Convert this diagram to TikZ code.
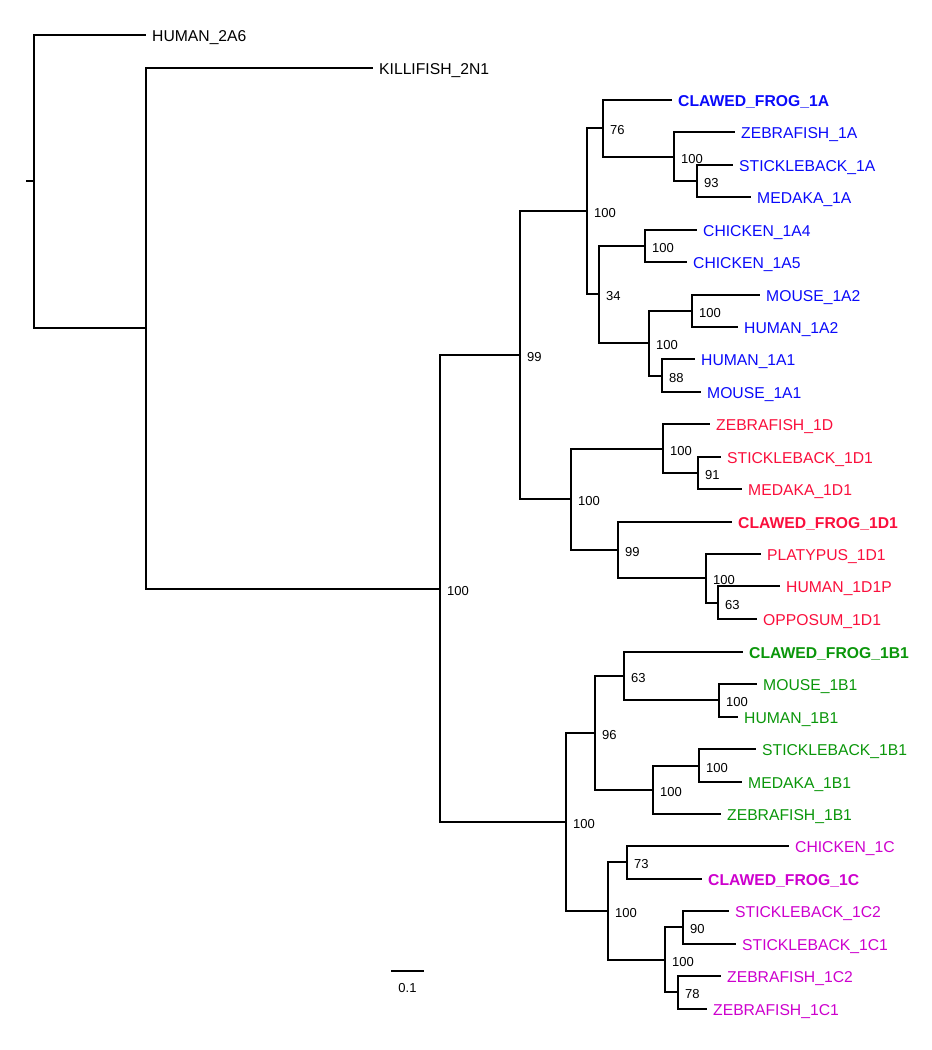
\documentclass[tikz,border=0pt]{standalone}
\usepackage{fontspec}
\setmainfont{Liberation Sans}
\usetikzlibrary{positioning}

\definecolor{cladeA}{RGB}{10,10,250}
\definecolor{cladeD}{RGB}{250,15,60}
\definecolor{cladeB}{RGB}{10,150,10}
\definecolor{cladeC}{RGB}{205,0,205}
\newcommand{\leaffont}{\fontsize{15.7bp}{18bp}\selectfont}
\newcommand{\bootfont}{\fontsize{13bp}{15bp}\selectfont}

\tikzset{
  branch/.style={line width=2bp},
  leaf/.style={text=#1, font=\leaffont, inner sep=0pt, text height=11.2bp, text depth=0pt, yshift=-1.2bp},
  leaf/.default=black,
  frog/.style={font=\leaffont\bfseries},
  boot/.style={font=\bootfont, inner sep=0pt, yshift=-2bp},
}

\begin{document}
\begin{tikzpicture}[x=1bp, y=-1bp]
\useasboundingbox (0,0) rectangle (932,1050);

% internal nodes
\coordinate (rtick) at (26,181);
\coordinate (root) at (34,181);
\coordinate (n1) at (146,328);
\coordinate (n2) at (440,589);
\coordinate (nAD) at (520,355);
\coordinate (nA) at (587,211);
\coordinate (nA76) at (603,128);
\coordinate (nAf) at (674,157);
\coordinate (nA93) at (697,181);
\coordinate (nA34) at (599,294);
\coordinate (nAch) at (645,246);
\coordinate (nAmm) at (649,343);
\coordinate (nA2) at (692,311);
\coordinate (nA88) at (662,376);
\coordinate (nD) at (571,499);
\coordinate (nDf) at (663,449);
\coordinate (nD91) at (698,473);
\coordinate (nD99) at (618,550);
\coordinate (nDmm) at (706,578);
\coordinate (nD63) at (718,603);
\coordinate (nBC) at (566,822);
\coordinate (nB) at (595,733);
\coordinate (nB63) at (624,676);
\coordinate (nBmm) at (719,700);
\coordinate (nBf) at (653,790);
\coordinate (nBsm) at (699,766);
\coordinate (nC) at (608,911);
\coordinate (nC73) at (627,862);
\coordinate (nCf) at (665,960);
\coordinate (nC90) at (683,927);
\coordinate (nC78) at (678,992);

% leaf tips
\coordinate (h2a6) at (146,35);
\coordinate (k2n1) at (373,68);
\coordinate (cf1a) at (672,100);
\coordinate (zf1a) at (735,132);
\coordinate (sb1a) at (733,165);
\coordinate (md1a) at (751,197);
\coordinate (ch1a4) at (697,230);
\coordinate (ch1a5) at (687,262);
\coordinate (ms1a2) at (760,295);
\coordinate (hu1a2) at (738,327);
\coordinate (hu1a1) at (695,359);
\coordinate (ms1a1) at (701,392);
\coordinate (zf1d) at (710,424);
\coordinate (sb1d1) at (721,457);
\coordinate (md1d1) at (742,489);
\coordinate (cf1d1) at (732,522);
\coordinate (pl1d1) at (761,554);
\coordinate (hu1d1p) at (780,586);
\coordinate (op1d1) at (757,619);
\coordinate (cf1b1) at (743,652);
\coordinate (ms1b1) at (757,684);
\coordinate (hu1b1) at (738,717);
\coordinate (sb1b1) at (756,749);
\coordinate (md1b1) at (742,782);
\coordinate (zf1b1) at (721,814);
\coordinate (ch1c) at (789,846);
\coordinate (cf1c) at (702,879);
\coordinate (sb1c2) at (729,911);
\coordinate (sb1c1) at (736,944);
\coordinate (zf1c2) at (721,976);
\coordinate (zf1c1) at (707,1009);

% branches
\draw[branch] (rtick) -- (root);
\draw[branch] (root) |- (h2a6) (root) |- (n1);
\draw[branch] (n1) |- (k2n1) (n1) |- (n2);
\draw[branch] (n2) |- (nAD) (n2) |- (nBC);
\draw[branch] (nAD) |- (nA) (nAD) |- (nD);
\draw[branch] (nA) |- (nA76) (nA) |- (nA34);
\draw[branch] (nA76) |- (cf1a) (nA76) |- (nAf);
\draw[branch] (nAf) |- (zf1a) (nAf) |- (nA93);
\draw[branch] (nA93) |- (sb1a) (nA93) |- (md1a);
\draw[branch] (nA34) |- (nAch) (nA34) |- (nAmm);
\draw[branch] (nAch) |- (ch1a4) (nAch) |- (ch1a5);
\draw[branch] (nAmm) |- (nA2) (nAmm) |- (nA88);
\draw[branch] (nA2) |- (ms1a2) (nA2) |- (hu1a2);
\draw[branch] (nA88) |- (hu1a1) (nA88) |- (ms1a1);
\draw[branch] (nD) |- (nDf) (nD) |- (nD99);
\draw[branch] (nDf) |- (zf1d) (nDf) |- (nD91);
\draw[branch] (nD91) |- (sb1d1) (nD91) |- (md1d1);
\draw[branch] (nD99) |- (cf1d1) (nD99) |- (nDmm);
\draw[branch] (nDmm) |- (pl1d1) (nDmm) |- (nD63);
\draw[branch] (nD63) |- (hu1d1p) (nD63) |- (op1d1);
\draw[branch] (nBC) |- (nB) (nBC) |- (nC);
\draw[branch] (nB) |- (nB63) (nB) |- (nBf);
\draw[branch] (nB63) |- (cf1b1) (nB63) |- (nBmm);
\draw[branch] (nBmm) |- (ms1b1) (nBmm) |- (hu1b1);
\draw[branch] (nBf) |- (nBsm) (nBf) |- (zf1b1);
\draw[branch] (nBsm) |- (sb1b1) (nBsm) |- (md1b1);
\draw[branch] (nC) |- (nC73) (nC) |- (nCf);
\draw[branch] (nC73) |- (ch1c) (nC73) |- (cf1c);
\draw[branch] (nCf) |- (nC90) (nCf) |- (nC78);
\draw[branch] (nC90) |- (sb1c2) (nC90) |- (sb1c1);
\draw[branch] (nC78) |- (zf1c2) (nC78) |- (zf1c1);

% bootstrap values
\node[boot, right=7bp of n2] (b2) {100};
\node[boot, right=7bp of nAD] (bAD) {99};
\node[boot, right=7bp of nA] (bA) {100};
\node[boot, right=7bp of nA76] (bA76) {76};
\node[boot, right=7bp of nAf] (bAf) {100};
\node[boot, right=7bp of nA93] (bA93) {93};
\node[boot, right=7bp of nA34] (bA34) {34};
\node[boot, right=7bp of nAch] (bAch) {100};
\node[boot, right=7bp of nAmm] (bAmm) {100};
\node[boot, right=7bp of nA2] (bA2) {100};
\node[boot, right=7bp of nA88] (bA88) {88};
\node[boot, right=7bp of nD] (bD) {100};
\node[boot, right=7bp of nDf] (bDf) {100};
\node[boot, right=7bp of nD91] (bD91) {91};
\node[boot, right=7bp of nD99] (bD99) {99};
\node[boot, right=7bp of nDmm] (bDmm) {100};
\node[boot, right=7bp of nD63] (bD63) {63};
\node[boot, right=7bp of nBC] (bBC) {100};
\node[boot, right=7bp of nB] (bB) {96};
\node[boot, right=7bp of nB63] (bB63) {63};
\node[boot, right=7bp of nBmm] (bBmm) {100};
\node[boot, right=7bp of nBf] (bBf) {100};
\node[boot, right=7bp of nBsm] (bBsm) {100};
\node[boot, right=7bp of nC] (bC) {100};
\node[boot, right=7bp of nC73] (bC73) {73};
\node[boot, right=7bp of nCf] (bCf) {100};
\node[boot, right=7bp of nC90] (bC90) {90};
\node[boot, right=7bp of nC78] (bC78) {78};

% leaf names
\node[leaf, right=6bp of h2a6] (t1) {HUMAN\_2A6};
\node[leaf, right=6bp of k2n1] (t2) {KILLIFISH\_2N1};
\node[leaf=cladeA, frog, right=6bp of cf1a] (t3) {CLAWED\_FROG\_1A};
\node[leaf=cladeA, right=6bp of zf1a] (t4) {ZEBRAFISH\_1A};
\node[leaf=cladeA, right=6bp of sb1a] (t5) {STICKLEBACK\_1A};
\node[leaf=cladeA, right=6bp of md1a] (t6) {MEDAKA\_1A};
\node[leaf=cladeA, right=6bp of ch1a4] (t7) {CHICKEN\_1A4};
\node[leaf=cladeA, right=6bp of ch1a5] (t8) {CHICKEN\_1A5};
\node[leaf=cladeA, right=6bp of ms1a2] (t9) {MOUSE\_1A2};
\node[leaf=cladeA, right=6bp of hu1a2] (t10) {HUMAN\_1A2};
\node[leaf=cladeA, right=6bp of hu1a1] (t11) {HUMAN\_1A1};
\node[leaf=cladeA, right=6bp of ms1a1] (t12) {MOUSE\_1A1};
\node[leaf=cladeD, right=6bp of zf1d] (t13) {ZEBRAFISH\_1D};
\node[leaf=cladeD, right=6bp of sb1d1] (t14) {STICKLEBACK\_1D1};
\node[leaf=cladeD, right=6bp of md1d1] (t15) {MEDAKA\_1D1};
\node[leaf=cladeD, frog, right=6bp of cf1d1] (t16) {CLAWED\_FROG\_1D1};
\node[leaf=cladeD, right=6bp of pl1d1] (t17) {PLATYPUS\_1D1};
\node[leaf=cladeD, right=6bp of hu1d1p] (t18) {HUMAN\_1D1P};
\node[leaf=cladeD, right=6bp of op1d1] (t19) {OPPOSUM\_1D1};
\node[leaf=cladeB, frog, right=6bp of cf1b1] (t20) {CLAWED\_FROG\_1B1};
\node[leaf=cladeB, right=6bp of ms1b1] (t21) {MOUSE\_1B1};
\node[leaf=cladeB, right=6bp of hu1b1] (t22) {HUMAN\_1B1};
\node[leaf=cladeB, right=6bp of sb1b1] (t23) {STICKLEBACK\_1B1};
\node[leaf=cladeB, right=6bp of md1b1] (t24) {MEDAKA\_1B1};
\node[leaf=cladeB, right=6bp of zf1b1] (t25) {ZEBRAFISH\_1B1};
\node[leaf=cladeC, right=6bp of ch1c] (t26) {CHICKEN\_1C};
\node[leaf=cladeC, frog, right=6bp of cf1c] (t27) {CLAWED\_FROG\_1C};
\node[leaf=cladeC, right=6bp of sb1c2] (t28) {STICKLEBACK\_1C2};
\node[leaf=cladeC, right=6bp of sb1c1] (t29) {STICKLEBACK\_1C1};
\node[leaf=cladeC, right=6bp of zf1c2] (t30) {ZEBRAFISH\_1C2};
\node[leaf=cladeC, right=6bp of zf1c1] (t31) {ZEBRAFISH\_1C1};

% scale bar
\coordinate (sbl) at (391,971);
\coordinate (sbr) at (424,971);
\draw[branch] (sbl) -- (sbr);
\node[font=\bootfont, inner sep=0pt] (sblab) at (407.5,988) {0.1};
\end{tikzpicture}
\end{document}
